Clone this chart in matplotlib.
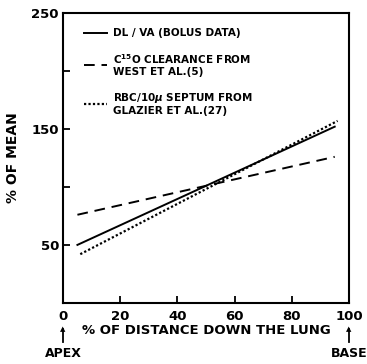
import matplotlib.pyplot as plt

# percent of distance down the lung, line end points
dist = [5, 95]
dl_va = [50, 152]
c15o = [76, 126]
dist_rbc = [6, 96]
rbc = [42, 157]

y_ticks = [50, 100, 150, 200, 250]
y_labels = ['50', '', '150', '', '250']
x_ticks = [0, 20, 40, 60, 80, 100]

plt.rcParams['font.family'] = 'DejaVu Sans'
plt.rcParams['font.weight'] = 'bold'

fig = plt.figure(figsize=(3.67, 3.64), dpi=100)
ax = fig.add_axes([0.172, 0.168, 0.779, 0.796])

ax.plot(dist, dl_va, color='black', lw=1.4, ls='-', label='DL / VA (BOLUS DATA)')
ax.plot(dist, c15o, color='black', lw=1.4, ls=(0, (5.5, 3.5)),
        label='C$^{15}$O CLEARANCE FROM\nWEST ET AL.(5)')
ax.plot(dist_rbc, rbc, color='black', lw=1.6, ls=(0, (1, 1)),
        label='RBC/10$\\mu$ SEPTUM FROM\nGLAZIER ET AL.(27)')

ax.set_xlim(0, 100)
ax.set_ylim(0, 250)
ax.set_yticks(y_ticks)
ax.set_yticklabels(y_labels)
ax.set_xticks(x_ticks)
ax.tick_params(direction='in', length=5, width=1.3, labelsize=9.5, pad=3)
ax.tick_params(axis='x', pad=5)
for s in ax.spines.values():
    s.set_linewidth(1.5)

ax.set_ylabel('% OF MEAN', fontsize=10, fontweight='bold', labelpad=8)
ax.set_xlabel('% OF DISTANCE DOWN THE LUNG', fontsize=9.5, fontweight='bold', labelpad=1)

leg = ax.legend(loc='upper left', bbox_to_anchor=(0.04, 0.98), frameon=False,
                fontsize=7.5, handlelength=2.2, labelspacing=1.3, handletextpad=0.6)

# apex / base markers below the axis
for xv, name in [(0, 'APEX'), (100, 'BASE')]:
    xf = 0.172 + 0.779 * xv / 100
    fig.text(xf, 0.03, name, ha='center', va='center', fontsize=9, fontweight='bold')
    fig.add_artist(plt.Line2D([xf, xf], [0.06, 0.095], color='black', lw=1.3,
                              transform=fig.transFigure))
    fig.text(xf, 0.095, '\u25B2', ha='center', va='center', fontsize=5)

fig.savefig('out.png', dpi=100)
